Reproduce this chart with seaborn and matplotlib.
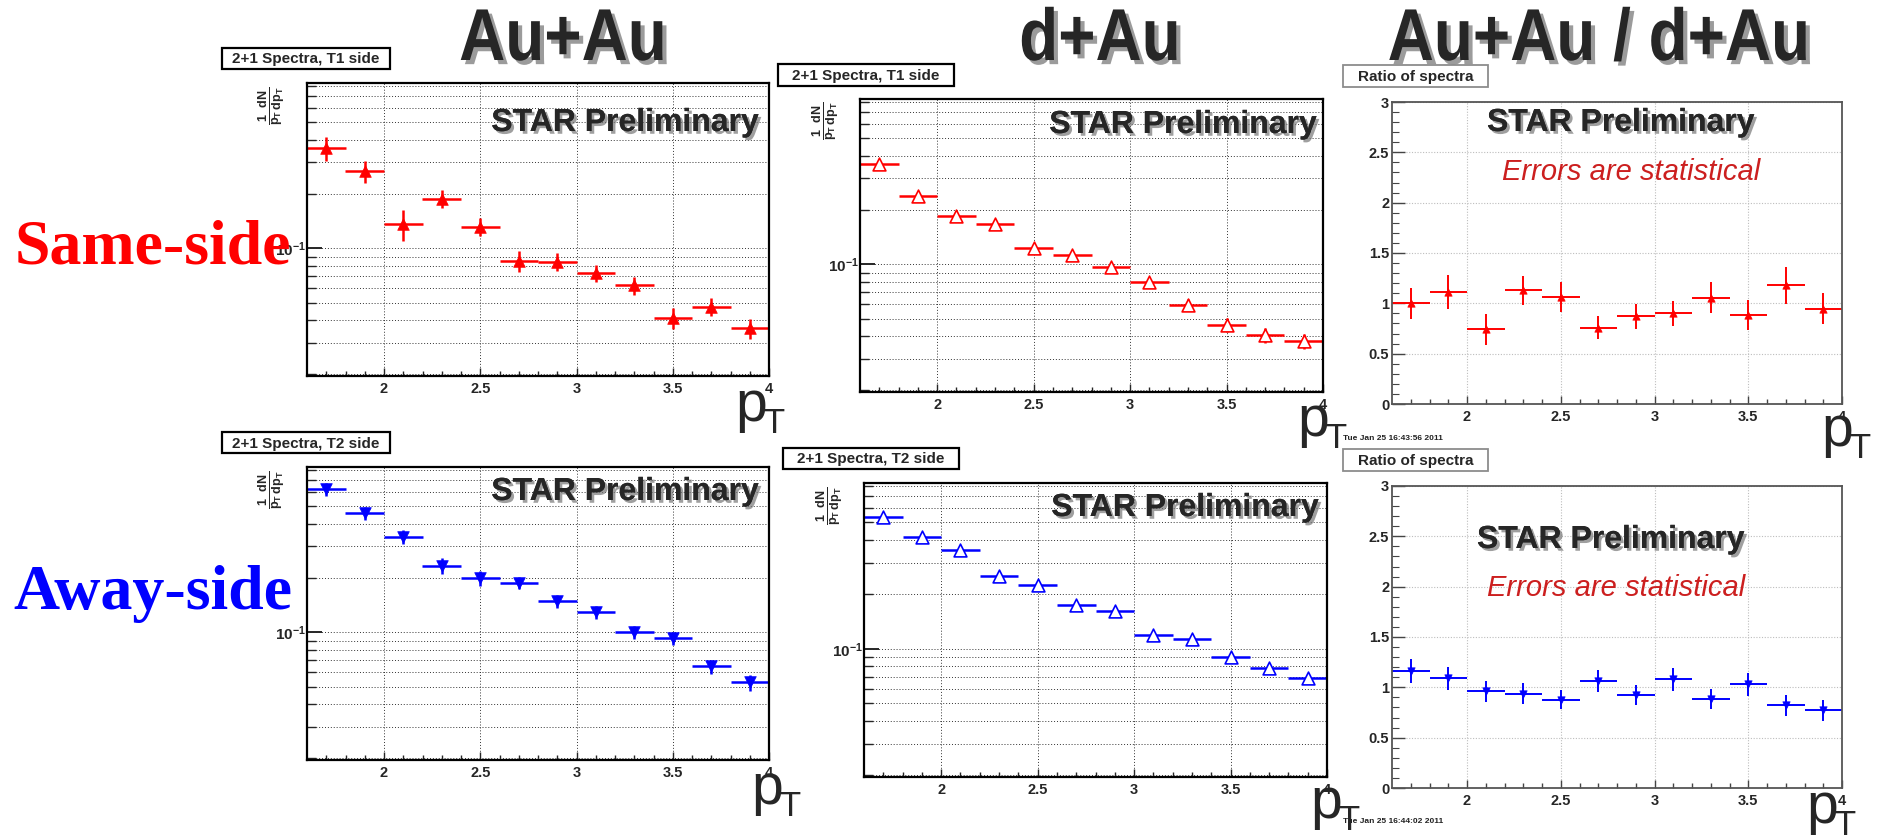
import numpy as np
import pandas as pd
import matplotlib
matplotlib.use("Agg")
import matplotlib.pyplot as plt
import matplotlib.patheffects as pe
import matplotlib.colors as mcolors
from matplotlib.patches import Rectangle
from matplotlib.transforms import Affine2D
from matplotlib.ticker import FixedLocator, FixedFormatter, NullFormatter
import seaborn as sns

# pT bins (GeV/c): centres and half widths
pt_centers = [1.7, 1.9, 2.1, 2.3, 2.5, 2.7, 2.9, 3.1, 3.3, 3.5, 3.7, 3.9]
pt_half_width = [0.1] * 12

# Same-side (T1) spectra
auau_same = [0.359, 0.267, 0.137, 0.189, 0.132, 0.085, 0.0843, 0.073, 0.0623, 0.041, 0.0476, 0.036]
auau_same_err = [0.054, 0.037, 0.027, 0.021, 0.015, 0.0115, 0.0098, 0.008, 0.007, 0.0055, 0.0056, 0.0045]
dau_same = [0.361, 0.240, 0.186, 0.168, 0.124, 0.112, 0.0966, 0.080, 0.0598, 0.0463, 0.0405, 0.0375]
dau_same_err = [0.011, 0.008, 0.007, 0.007, 0.006, 0.006, 0.006, 0.005, 0.0045, 0.004, 0.0037, 0.0035]
ratio_same = [1.00, 1.11, 0.741, 1.128, 1.062, 0.757, 0.87, 0.903, 1.055, 0.883, 1.178, 0.946]
ratio_same_err = [0.155, 0.17, 0.15, 0.145, 0.15, 0.115, 0.125, 0.125, 0.155, 0.15, 0.18, 0.155]

# Away-side (T2) spectra
auau_away = [0.621, 0.458, 0.340, 0.234, 0.199, 0.188, 0.149, 0.129, 0.1004, 0.0926, 0.0647, 0.0528]
auau_away_err = [0.05, 0.039, 0.031, 0.023, 0.019, 0.015, 0.0125, 0.011, 0.0087, 0.008, 0.006, 0.0053]
dau_away = [0.539, 0.415, 0.353, 0.252, 0.226, 0.176, 0.163, 0.120, 0.1137, 0.0903, 0.0784, 0.069]
dau_away_err = [0.010, 0.008, 0.007, 0.006, 0.005, 0.004, 0.004, 0.0035, 0.0035, 0.003, 0.003, 0.0028]
ratio_away = [1.161, 1.088, 0.959, 0.936, 0.877, 1.062, 0.92, 1.078, 0.883, 1.029, 0.82, 0.771]
ratio_away_err = [0.12, 0.11, 0.10, 0.105, 0.095, 0.11, 0.10, 0.11, 0.096, 0.115, 0.10, 0.106]

x_tick_values = [2, 2.5, 3, 3.5, 4]
x_tick_labels = ["2", "2.5", "3", "3.5", "4"]
ratio_tick_values = [0, 0.5, 1, 1.5, 2, 2.5, 3]
ratio_tick_labels = ["0", "0.5", "1", "1.5", "2", "2.5", "3"]
log_minor_values = [0.02, 0.03, 0.04, 0.05, 0.06, 0.07, 0.08, 0.09,
                    0.2, 0.3, 0.4, 0.5, 0.6, 0.7, 0.8]

column_titles = ["Au+Au", "d+Au", "Au+Au / d+Au"]
row_titles = ["Same-side", "Away-side"]
box_titles = ["2+1 Spectra, T1 side", "2+1 Spectra, T1 side", "Ratio of spectra",
              "2+1 Spectra, T2 side", "2+1 Spectra, T2 side", "Ratio of spectra"]
timestamps = ["Tue Jan 25 16:43:56 2011", "Tue Jan 25 16:44:02 2011"]

RED = "#ff0000"
BLUE = "#0000ff"

sns.set_style("white")
plt.rcParams["font.family"] = ["Liberation Sans", "DejaVu Sans"]
plt.rcParams["mathtext.fontset"] = "custom"
plt.rcParams["mathtext.rm"] = "Liberation Sans:bold"
plt.rcParams["mathtext.it"] = "Liberation Sans:bold"
plt.rcParams["mathtext.bf"] = "Liberation Sans:bold"
plt.rcParams["mathtext.sf"] = "Liberation Sans:bold"

W, H = 1877, 835
fig = plt.figure(figsize=(W / 100, H / 100), dpi=100)
fig.patch.set_facecolor("white")


class StretchedGlyphs(pe.AbstractPathEffect):
    """Draw text glyphs stretched vertically about the baseline (narrow heading look)."""

    def __init__(self, sy=1.0, offset=(0, 0), color=None, alpha=None):
        super().__init__(offset)
        self._sy = sy
        self._color = color
        self._alpha = alpha

    def draw_path(self, renderer, gc, tpath, affine, rgbFace=None):
        gc0 = renderer.new_gc()
        gc0.copy_properties(gc)
        face = rgbFace
        if self._color is not None:
            face = mcolors.to_rgba(self._color)
        if self._alpha is not None:
            gc0.set_alpha(self._alpha)
        tr = Affine2D().scale(1.0, self._sy) + affine + self._offset_transform(renderer)
        renderer.draw_path(gc0, tpath, tr, face)
        gc0.restore()


def add_ax(x0, y0, x1, y1):
    return fig.add_axes([x0 / W, 1 - y1 / H, (x1 - x0) / W, (y1 - y0) / H])


def ftext(x, y, s, **kw):
    return fig.text(x / W, 1 - y / H, s, **kw)


def fbox(x0, y0, x1, y1, text, edge="black", lw=1.6, size=10.5):
    fig.patches.append(Rectangle((x0 / W, 1 - y1 / H), (x1 - x0) / W, (y1 - y0) / H,
                                 transform=fig.transFigure, facecolor="white",
                                 edgecolor=edge, linewidth=lw, zorder=5))
    ftext((x0 + x1) / 2, (y0 + y1) / 2 + 1, text, ha="center", va="center",
          fontsize=size, fontweight="bold", zorder=6)


def draw_points(ax, y, yerr, color, marker, size, filled, lw):
    df = pd.DataFrame({"pt": pt_centers, "value": y, "err": yerr, "dx": pt_half_width})
    ax.errorbar(df["pt"], df["value"], xerr=df["dx"], yerr=df["err"], fmt="none",
                ecolor=color, elinewidth=lw, capsize=0, zorder=3)
    if filled:
        sns.scatterplot(data=df, x="pt", y="value", marker=marker, s=size, color=color,
                        edgecolor=color, linewidth=0.5, ax=ax, zorder=4, legend=False)
    else:
        sns.scatterplot(data=df, x="pt", y="value", marker=marker, s=size, color="white",
                        edgecolor=color, linewidth=1.2, ax=ax, zorder=4, legend=False)
    ax.set_xlabel("")
    ax.set_ylabel("")


def style_x(ax, major_len, minor_len):
    ax.set_xlim(1.6, 4.0)
    ax.xaxis.set_major_locator(FixedLocator(x_tick_values))
    ax.xaxis.set_major_formatter(FixedFormatter(x_tick_labels))
    ax.xaxis.set_minor_locator(FixedLocator([1.7, 1.8, 1.9, 2.1, 2.2, 2.3, 2.4, 2.6, 2.7, 2.8,
                                             2.9, 3.1, 3.2, 3.3, 3.4, 3.6, 3.7, 3.8, 3.9]))
    ax.tick_params(axis="x", which="major", direction="in", length=major_len, width=1.0,
                   labelsize=10.5, pad=4, bottom=True, top=False)
    ax.tick_params(axis="x", which="minor", direction="in", length=minor_len, width=1.0,
                   bottom=True, top=False)
    for lab in ax.get_xticklabels():
        lab.set_fontweight("bold")


def style_spectrum(ax):
    ax.set_yscale("log")
    ax.set_ylim(0.0196, 0.826)
    ax.yaxis.set_major_locator(FixedLocator([0.1]))
    ax.yaxis.set_major_formatter(FixedFormatter([r"$10^{-1}$"]))
    ax.yaxis.set_minor_locator(FixedLocator(log_minor_values))
    ax.yaxis.set_minor_formatter(NullFormatter())
    ax.tick_params(axis="y", which="major", direction="in", length=11, width=1.4,
                   labelsize=11, pad=1, left=True, right=False)
    ax.tick_params(axis="y", which="minor", direction="in", length=6.5, width=1.0,
                   left=True, right=False)
    style_x(ax, 6, 3.5)
    ax.grid(True, which="both", axis="y", linestyle=(0, (1, 2)), color="#333333", linewidth=0.7)
    ax.grid(True, which="major", axis="x", linestyle=(0, (1, 2)), color="#333333", linewidth=0.7)
    for sp in ax.spines.values():
        sp.set_color("black")
        sp.set_linewidth(1.6)
        sp.set_zorder(5)


def style_ratio(ax):
    ax.set_ylim(0, 3)
    ax.yaxis.set_major_locator(FixedLocator(ratio_tick_values))
    ax.yaxis.set_major_formatter(FixedFormatter(ratio_tick_labels))
    ax.yaxis.set_minor_locator(FixedLocator([v / 10 for v in range(31) if v % 5]))
    ax.tick_params(axis="y", which="major", direction="in", length=9, width=1.0,
                   labelsize=10.5, pad=2, left=True, right=False, color="#444444")
    ax.tick_params(axis="y", which="minor", direction="in", length=5, width=0.8,
                   left=True, right=False, color="#444444")
    for lab in ax.get_yticklabels():
        lab.set_fontweight("bold")
    style_x(ax, 6, 3.5)
    ax.tick_params(axis="x", which="both", color="#444444")
    ax.grid(True, which="major", axis="both", linestyle=(0, (1, 1.5)), color="#bdbdbd", linewidth=0.8)
    for sp in ax.spines.values():
        sp.set_color("#555555")
        sp.set_linewidth(1.3)
        sp.set_zorder(5)


shadow = [pe.withSimplePatchShadow(offset=(2, -2), shadow_rgbFace="#777777", alpha=0.7), pe.Normal()]
heading_effects = [StretchedGlyphs(sy=1.15, offset=(3, -3), color="#8a8a8a", alpha=0.85),
                   StretchedGlyphs(sy=1.15)]

# ---- panel frames (pixel boxes: left, top, right, bottom)
ax1 = add_ax(307, 83, 769, 376)
ax2 = add_ax(860, 99, 1323, 392)
ax3 = add_ax(1392, 102, 1842, 404)
ax4 = add_ax(307, 467, 769, 760)
ax5 = add_ax(864, 483, 1327, 777)
ax6 = add_ax(1392, 486, 1842, 788)

draw_points(ax1, auau_same, auau_same_err, RED, "^", 70, True, 1.8)
draw_points(ax2, dau_same, dau_same_err, RED, "^", 85, False, 1.8)
draw_points(ax3, ratio_same, ratio_same_err, RED, "^", 28, True, 1.4)
draw_points(ax4, auau_away, auau_away_err, BLUE, "v", 70, True, 1.8)
draw_points(ax5, dau_away, dau_away_err, BLUE, "^", 85, False, 1.8)
draw_points(ax6, ratio_away, ratio_away_err, BLUE, "v", 28, True, 1.4)

for ax in (ax1, ax2, ax4, ax5):
    style_spectrum(ax)
for ax in (ax3, ax6):
    style_ratio(ax)

# ---- "STAR Preliminary" and note texts inside panels
for ax_right, base in ((759, 131), (1317, 133), (759, 500), (1319, 516)):
    ftext(ax_right, base, "STAR Preliminary", ha="right", va="baseline",
          fontsize=23, fontweight="bold", path_effects=shadow, zorder=7)
for left, base in ((1487, 131), (1477, 548)):
    ftext(left, base, "STAR Preliminary", ha="left", va="baseline",
          fontsize=23, fontweight="bold", path_effects=shadow, zorder=7)
for left, base in ((1502, 180), (1487, 596)):
    ftext(left, base, "Errors are statistical", ha="left", va="baseline",
          fontsize=21, style="italic", color="#cc1f1f", zorder=7)

# ---- y-axis titles of spectra
ylab = r"$\frac{1}{p_{T}}\frac{dN}{dp_{T}}$"
for cx, top in ((272, 86), (826, 101), (272, 470), (830, 486)):
    ftext(cx, top, ylab, rotation=90, ha="center", va="top", fontsize=13)

# ---- title boxes
box_xy = [(222, 48, 390, 69), (778, 64, 954, 86), (1343, 65, 1488, 87),
          (222, 432, 390, 453), (783, 448, 959, 469), (1343, 449, 1488, 471)]
for (x0, y0, x1, y1), t in zip(box_xy, box_titles):
    if t.startswith("Ratio"):
        fbox(x0, y0, x1, y1, t, edge="#8c8c8c", lw=1.3, size=11)
    else:
        fbox(x0, y0, x1, y1, t, size=11)

# ---- timestamps under ratio panels
for (x, y), t in zip(((1343, 440), (1343, 823)), timestamps):
    ftext(x, y, t, ha="left", va="baseline", fontsize=6, fontweight="bold", color="#222222")

# ---- large pT axis titles
for px, pb in ((735, 421), (1297, 436), (1821, 446), (751, 804), (1310, 818), (1806, 823)):
    ftext(px, pb, "p", ha="left", va="baseline", fontsize=41, zorder=8)
    ftext(px + 28, pb + 12, "T", ha="left", va="baseline", fontsize=25, zorder=8)

# ---- column and row headings
for cx, t in zip((563, 1100, 1599), column_titles):
    ftext(cx, 60, t, ha="center", va="baseline", fontsize=46, fontweight="bold",
          path_effects=heading_effects, zorder=8)
ftext(15, 263, row_titles[0], ha="left", va="baseline", fontsize=46, fontweight="bold",
      family=["Liberation Serif", "DejaVu Serif"], color=RED, zorder=8)
ftext(13, 609, row_titles[1], ha="left", va="baseline", fontsize=46, fontweight="bold",
      family=["Liberation Serif", "DejaVu Serif"], color=BLUE, zorder=8)

fig.savefig("out.png", dpi=100, facecolor="white")
